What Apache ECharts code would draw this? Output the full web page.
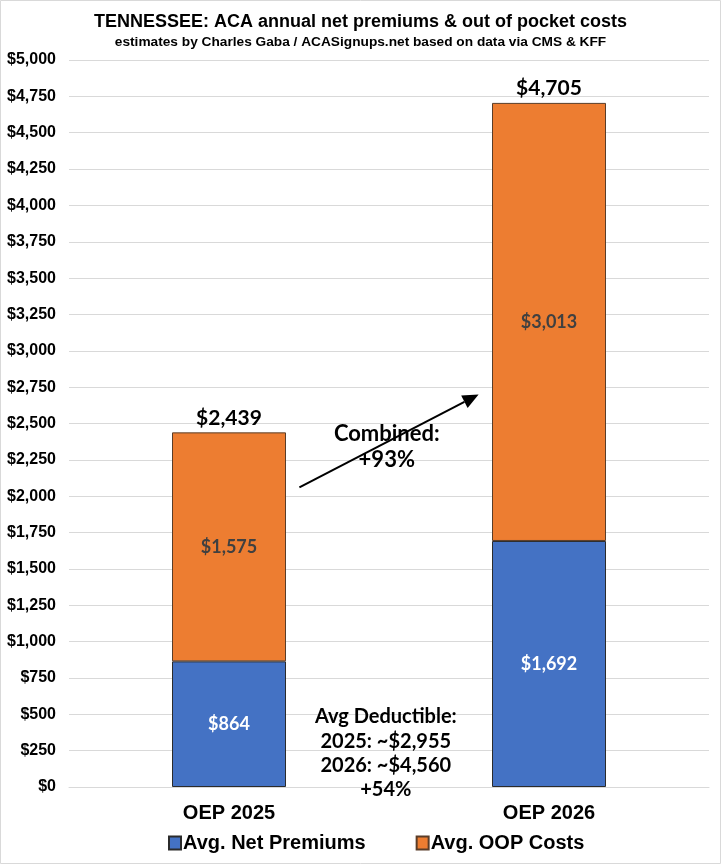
<!DOCTYPE html>
<html>
<head>
<meta charset="utf-8">
<script src="https://cdn.jsdelivr.net/npm/echarts@6/dist/echarts.min.js"></script>
<style>
  html, body { margin: 0; padding: 0; background: #fff; }
  #main { width: 721px; height: 864px; }
</style>
</head>
<body>
<div id="main"></div>
<script>
var categories = ['OEP 2025', 'OEP 2026'];
var netPremiums = [864, 1692];
var oopCosts = [1575, 3013];
var totals = [2439, 4705];
var yTicks = { min: 0, max: 5000, interval: 250 };
var combinedNote = ['Combined:', '+93%'];
var deductibleNote = ['Avg Deductible:', '2025: ~$2,955', '2026: ~$4,560', '+54%'];
// arrow ends in (category position, value)
var arrowFrom = [0.22, 2060];
var arrowTo = [0.78, 2700];

function money(v) {
    return '$' + v.toLocaleString('en-US');
}

var arial = '"Liberation Sans", Arial, sans-serif';
var calib = 'Lato, "Open Sans", sans-serif';

var myChart = echarts.init(document.getElementById('main'));
var option = {
    backgroundColor: '#fff',
    animation: false,
    title: {
        text: 'TENNESSEE: ACA annual net premiums & out of pocket costs',
        subtext: 'estimates by Charles Gaba / ACASignups.net based on data via CMS & KFF',
        left: 'center',
        top: 8,
        itemGap: 4,
        textStyle: { fontFamily: arial, fontWeight: 'bold', fontSize: 18, color: '#000' },
        subtextStyle: { fontFamily: arial, fontWeight: 'bold', fontSize: 13.7, color: '#000' }
    },
    legend: {
        bottom: 6,
        left: 163,
        itemWidth: 12,
        itemHeight: 13,
        itemGap: 50,
        icon: 'rect',
        textStyle: { fontFamily: arial, fontWeight: 'bold', fontSize: 20, color: '#000', padding: [0, 0, 0, -3] },
        data: ['Avg. Net Premiums', 'Avg. OOP Costs']
    },
    grid: { left: 69, right: 12, top: 60, bottom: 77 },
    xAxis: {
        type: 'category',
        data: categories,
        axisLine: { show: true, lineStyle: { color: '#d9d9d9' } },
        axisTick: { show: false },
        axisLabel: { fontFamily: arial, fontWeight: 'bold', fontSize: 20, color: '#000', margin: 16 }
    },
    yAxis: {
        type: 'value',
        min: yTicks.min,
        max: yTicks.max,
        interval: yTicks.interval,
        axisLine: { show: false },
        axisTick: { show: false },
        splitLine: { lineStyle: { color: '#d9d9d9', width: 1 } },
        axisLabel: {
            fontFamily: arial, fontWeight: 'bold', fontSize: 16, color: '#000', margin: 13,
            formatter: function (v) { return money(v); }
        }
    },
    series: [{
            name: 'Avg. Net Premiums',
            type: 'bar',
            stack: 'total',
            barWidth: 114,
            data: netPremiums,
            itemStyle: { color: '#4472C4', borderColor: '#2b2b2b', borderWidth: 1 },
            label: {
                show: true, position: 'inside', color: '#fff',
                fontFamily: calib, fontWeight: 'bold', fontSize: 18,
                formatter: function (p) { return money(p.value); }
            }
        },
        {
            name: 'Avg. OOP Costs',
            type: 'bar',
            stack: 'total',
            barWidth: 114,
            data: oopCosts,
            itemStyle: { color: '#ED7D31', borderColor: '#5a3d28', borderWidth: 1 },
            label: {
                show: true, position: 'inside', color: '#404040',
                fontFamily: calib, fontWeight: 'bold', fontSize: 18,
                formatter: function (p) { return money(p.value); }
            }
        },
        {
            // invisible series to carry the totals above each stack
            name: 'total',
            type: 'bar',
            barGap: '-100%',
            barWidth: 114,
            data: totals,
            itemStyle: { color: 'rgba(0,0,0,0)' },
            label: {
                show: true, position: 'top', distance: 4, color: '#000',
                fontFamily: calib, fontWeight: 'bold', fontSize: 21,
                formatter: function (p) { return money(p.value); }
            },
            tooltip: { show: false }
        }
    ]
};
myChart.setOption(option);

// annotations placed from data positions
function px(catPos, value) {
    var c0 = myChart.convertToPixel({ xAxisIndex: 0 }, categories[0]);
    var c1 = myChart.convertToPixel({ xAxisIndex: 0 }, categories[1]);
    var y = myChart.convertToPixel({ yAxisIndex: 0 }, value);
    return [c0 + (c1 - c0) * catPos, y];
}

var a = px(arrowFrom[0], arrowFrom[1]);
var b = px(arrowTo[0], arrowTo[1]);
var ang = Math.atan2(b[1] - a[1], b[0] - a[0]);
var headLen = 16, headW = 7;
var back = [b[0] - headLen * Math.cos(ang), b[1] - headLen * Math.sin(ang)];
var combPos = px(0.493, 2340);
var dedPos = px(0.49, 565);

myChart.setOption({
    graphic: [{
            type: 'rect',
            shape: { x: 0.5, y: 0.5, width: 720, height: 863 },
            style: { fill: 'none', stroke: '#d9d9d9', lineWidth: 1 },
            silent: true
        },
        {
            type: 'line',
            shape: { x1: a[0], y1: a[1], x2: back[0], y2: back[1] },
            style: { stroke: '#000', lineWidth: 2 },
            z: 10
        },
        {
            type: 'polygon',
            shape: {
                points: [
                    b,
                    [back[0] + headW * Math.sin(ang), back[1] - headW * Math.cos(ang)],
                    [back[0] - headW * Math.sin(ang), back[1] + headW * Math.cos(ang)]
                ]
            },
            style: { fill: '#000' },
            z: 10
        },
        {
            type: 'text',
            x: combPos[0],
            y: combPos[1],
            style: {
                text: combinedNote.join('\n'),
                fill: '#000',
                font: 'bold 22px ' + calib,
                align: 'center',
                verticalAlign: 'middle',
                lineHeight: 26
            },
            z: 11
        },
        {
            type: 'text',
            x: dedPos[0],
            y: dedPos[1],
            style: {
                text: deductibleNote.join('\n'),
                fill: '#000',
                font: 'bold 20px ' + calib,
                align: 'center',
                verticalAlign: 'top',
                lineHeight: 24.3
            },
            z: 11
        }
    ]
});
</script>
</body>
</html>
